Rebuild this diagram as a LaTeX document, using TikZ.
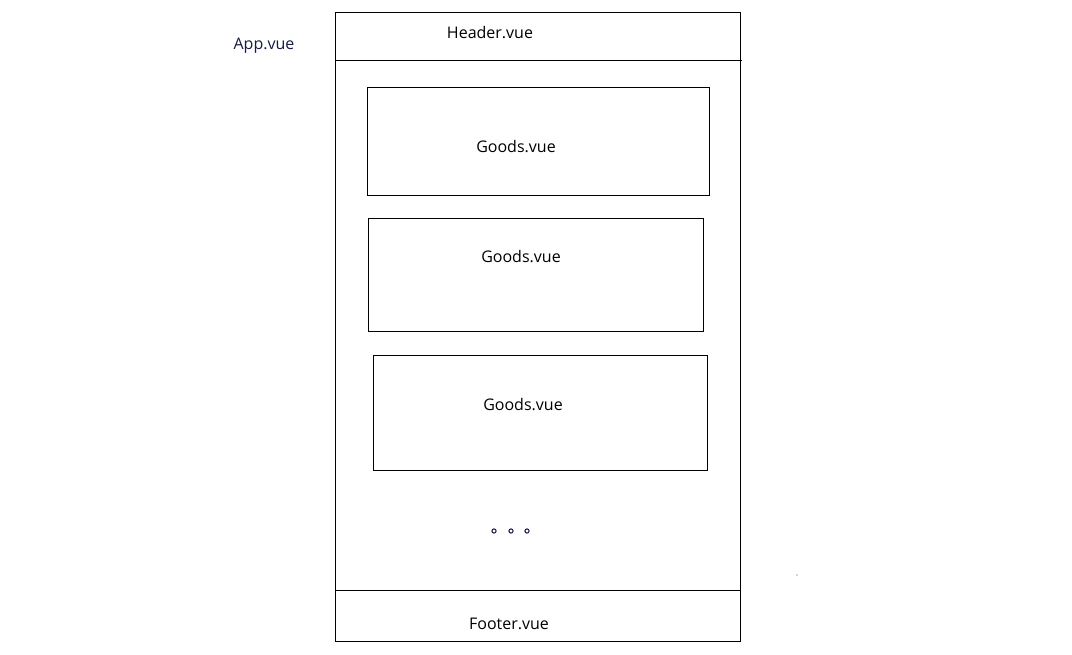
\documentclass[tikz,border=0pt]{standalone}
\usepackage{fontspec}
\setmainfont{Open Sans}
\definecolor{navy}{HTML}{141A45}
\begin{document}
\begin{tikzpicture}[x=1pt,y=-1pt,line width=0.9pt,
  box/.style={draw,black},
  lbl/.style={font=\fontsize{16}{19}\selectfont,inner sep=0pt},
  dotc/.style={draw=navy,line width=1pt,circle,inner sep=0pt,minimum size=4.2pt}]
\useasboundingbox (0,0) rectangle (1072,655);
\draw[box] (335,12) rectangle (740,641);
\draw (335,60) coordinate (hl) -- (742,60) coordinate (hr);
\draw (335,590) coordinate (fl) -- (740,590) coordinate (fr);
\node[box,minimum width=342pt,minimum height=108pt,inner sep=0pt] (g1) at (538,141) {};
\node[box,minimum width=335pt,minimum height=113pt,inner sep=0pt] (g2) at (535.5,274.5) {};
\node[box,minimum width=334pt,minimum height=115pt,inner sep=0pt] (g3) at (540,412.5) {};
\node[lbl] (t1) at (516,147) {Goods.vue};
\node[lbl] (t2) at (521,257) {Goods.vue};
\node[lbl] (t3) at (523,405) {Goods.vue};
\node[lbl] (hdr) at (490,33) {Header.vue};
\node[lbl] (ftr) at (509,624) {Footer.vue};
\node[lbl,text=navy] (app) at (264,46) {App.vue};
\node[dotc] (d1) at (494,531) {};
\node[dotc] (d2) at (511,531) {};
\node[dotc] (d3) at (527,531) {};
\fill[black!70] (797,575) circle (0.6pt);
\end{tikzpicture}
\end{document}
